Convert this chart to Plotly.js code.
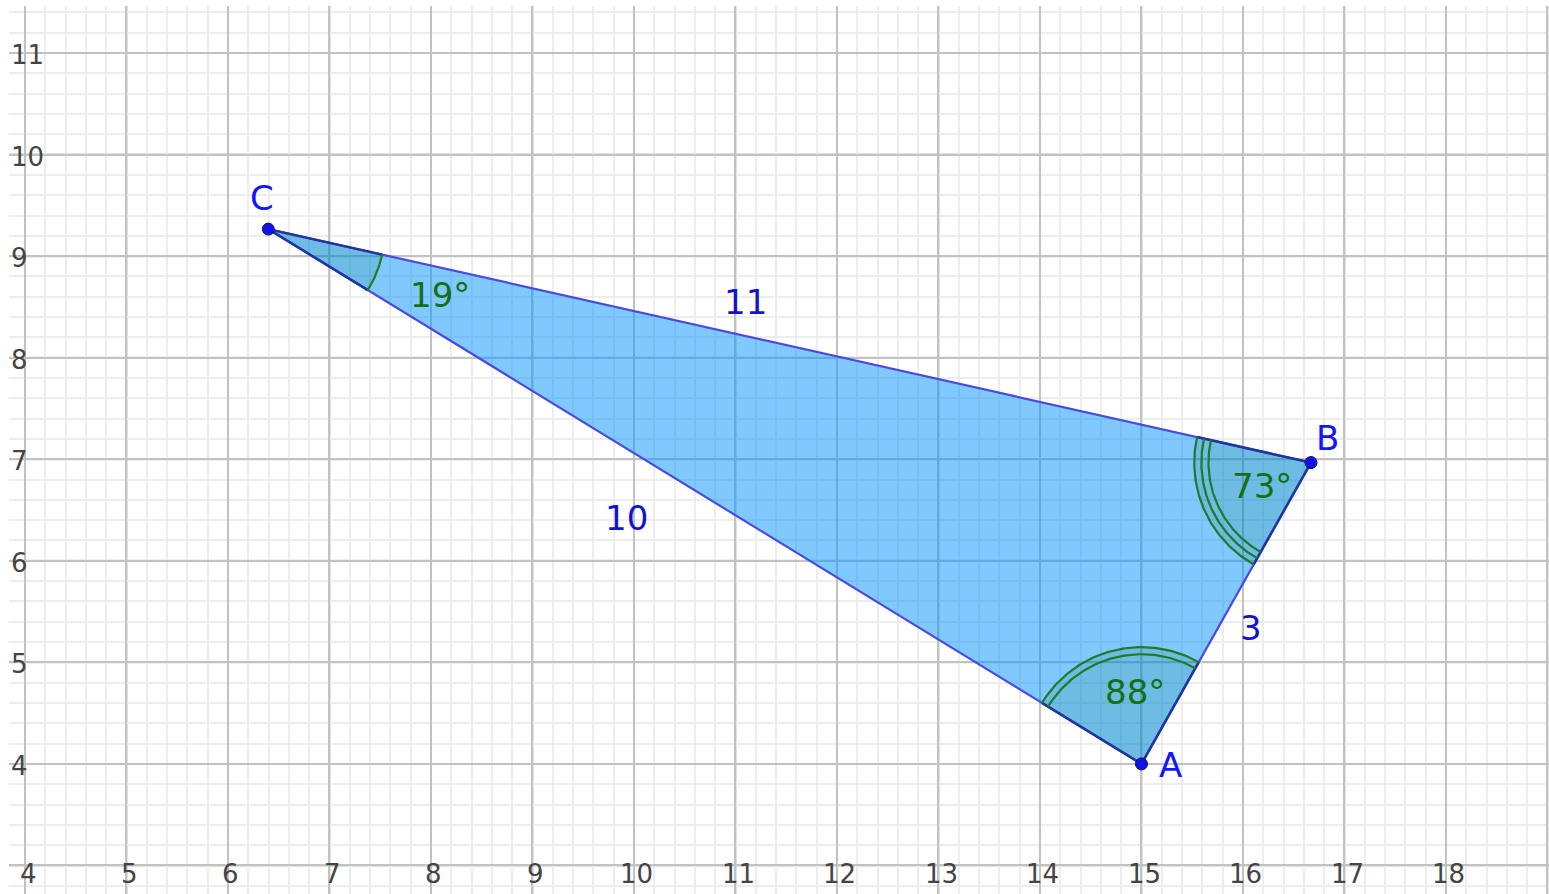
<!DOCTYPE html>
<html>
<head>
<meta charset="utf-8">
<script src="https://cdn.plot.ly/plotly-3.0.1.min.js"></script>
<style>html,body{margin:0;padding:0;background:#fff;}#chart{width:1549px;height:894px;}</style>
</head>
<body>
<div id="chart"></div>
<script>
// ---- data ----
const xTickVals = [4, 5, 6, 7, 8, 9, 10, 11, 12, 13, 14, 15, 16, 17, 18, 19];
const xTickText = ['4', '5', '6', '7', '8', '9', '10', '11', '12', '13', '14', '15', '16', '17', '18', ''];
const yTickVals = [3, 4, 5, 6, 7, 8, 9, 10, 11];
const yTickText = ['', '4', '5', '6', '7', '8', '9', '10', '11'];

const pointNames = ['A', 'B', 'C'];
const pointX = [15, 16.67, 6.397];
const pointY = [4, 6.967, 9.266];

const sideLabels = ['3', '11', '10'];      // sides AB, BC, CA
const angleLabels = ['88°', '73°', '19°']; // angles at A, B, C
const angleArcs = [2, 3, 1];               // number of arcs per angle

// ---- styles / label offsets (pixels) ----
const pointLabelShift = [[29, -1], [17, 25], [-6, 31]];
const sideLabelShift = [[25, -15], [-44, 44], [-78, -21]];
const angleLabelShift = [[-6, 72], [-49, -23], [172, -66]];
const sectorR = 1.15, arcGap = 0.07;

const xRange = [3.8424, 19.015];
const yRange = [2.719, 11.463];
const xAxisAt = 3;   // horizontal axis line value
const fnt = 'DejaVu Sans, sans-serif';
const majorGrid = '#c2c2c2', minorGrid = '#ededed';

// minor grid positions (every 0.2, skipping integers)
function minorVals(r) {
  const out = [];
  for (let k = Math.ceil(r[0] * 5); k <= Math.floor(r[1] * 5); k++) {
    if (k % 5 !== 0) out.push(Math.round(k * 2) / 10);
  }
  return out;
}

const traces = [];
// triangle
traces.push({
  type: 'scatter', mode: 'lines',
  x: [pointX[0], pointX[1], pointX[2], pointX[0]],
  y: [pointY[0], pointY[1], pointY[2], pointY[0]],
  fill: 'toself', fillcolor: 'rgba(0,148,255,0.5)',
  line: {color: '#4a4ae0', width: 2.2}, hoverinfo: 'skip'
});

// angle sectors
function arcPts(cx, cy, r, a1, d, n) {
  const xs = [], ys = [];
  for (let i = 0; i <= n; i++) {
    const a = a1 + d * i / n;
    xs.push(cx + r * Math.cos(a)); ys.push(cy + r * Math.sin(a));
  }
  return [xs, ys];
}
for (let i = 0; i < 3; i++) {
  const vx = pointX[i], vy = pointY[i];
  const p = (i + 1) % 3, q = (i + 2) % 3;
  const a1 = Math.atan2(pointY[p] - vy, pointX[p] - vx);
  const a2 = Math.atan2(pointY[q] - vy, pointX[q] - vx);
  let d = a2 - a1;
  while (d > Math.PI) d -= 2 * Math.PI;
  while (d <= -Math.PI) d += 2 * Math.PI;
  const [ax, ay] = arcPts(vx, vy, sectorR, a1, d, 80);
  traces.push({
    type: 'scatter', mode: 'lines',
    x: [vx].concat(ax, [vx]), y: [vy].concat(ay, [vy]),
    fill: 'toself', fillcolor: 'rgba(0,90,40,0.13)',
    line: {color: 'rgba(0,0,0,0)', width: 0}, hoverinfo: 'skip'
  });
  traces.push({
    type: 'scatter', mode: 'lines',
    x: [ax[0], vx, ax[ax.length - 1]], y: [ay[0], vy, ay[ay.length - 1]],
    line: {color: '#20359e', width: 2.5}, hoverinfo: 'skip'
  });
  for (let k = 0; k < angleArcs[i]; k++) {
    const [bx, by] = arcPts(vx, vy, sectorR - k * arcGap, a1, d, 80);
    traces.push({
      type: 'scatter', mode: 'lines', x: bx, y: by,
      line: {color: '#1f7a2a', width: 2.2}, hoverinfo: 'skip'
    });
  }
}

// points
traces.push({
  type: 'scatter', mode: 'markers', x: pointX, y: pointY,
  marker: {color: '#1010f0', size: 12, line: {color: '#101040', width: 1}},
  hoverinfo: 'skip'
});

const annotations = [];
for (let i = 0; i < 3; i++) {
  annotations.push({
    x: pointX[i], y: pointY[i], xref: 'x', yref: 'y', text: pointNames[i],
    showarrow: false, xshift: pointLabelShift[i][0], yshift: pointLabelShift[i][1],
    font: {family: fnt, size: 34, color: '#1414ff'}
  });
  const j = (i + 1) % 3;
  annotations.push({
    x: (pointX[i] + pointX[j]) / 2, y: (pointY[i] + pointY[j]) / 2, xref: 'x', yref: 'y',
    text: sideLabels[i], showarrow: false,
    xshift: sideLabelShift[i][0], yshift: sideLabelShift[i][1],
    font: {family: fnt, size: 34, color: '#1212d0'}
  });
  annotations.push({
    x: pointX[i], y: pointY[i], xref: 'x', yref: 'y', text: angleLabels[i],
    showarrow: false, xshift: angleLabelShift[i][0], yshift: angleLabelShift[i][1],
    font: {family: fnt, size: 34, color: '#137013'}
  });
}
// axis tick labels (drawn over the grid like the reference)
xTickVals.forEach((v, k) => {
  if (!xTickText[k]) return;
  annotations.push({
    x: v, y: xAxisAt, xref: 'x', yref: 'y', text: xTickText[k], showarrow: false,
    xanchor: 'center', yanchor: 'middle', xshift: 3, yshift: -9,
    font: {family: fnt, size: 26, color: '#444444'}
  });
});
yTickVals.forEach((v, k) => {
  if (!yTickText[k]) return;
  annotations.push({
    x: xRange[0], y: v, xref: 'x', yref: 'y', text: yTickText[k], showarrow: false,
    xanchor: 'left', yanchor: 'middle', xshift: 0, yshift: -2,
    font: {family: fnt, size: 26, color: '#444444'}
  });
});

// major grid lines as shapes (guarantees the line at the first tick is drawn)
const shapes = [];
xTickVals.forEach(v => shapes.push({
  type: 'line', layer: 'below', xref: 'x', yref: 'paper', x0: v, x1: v, y0: 0, y1: 1,
  line: {color: majorGrid, width: 2}
}));
yTickVals.forEach(v => shapes.push({
  type: 'line', layer: 'below', xref: 'paper', yref: 'y', x0: 0, x1: 1, y0: v, y1: v,
  line: {color: majorGrid, width: 2}
}));

const layout = {
  width: 1549, height: 894,
  margin: {l: 9, r: 0, t: 6, b: 0, pad: 0},
  paper_bgcolor: '#ffffff', plot_bgcolor: '#ffffff',
  showlegend: false,
  xaxis: {
    range: xRange, tickmode: 'array', tickvals: xTickVals, ticktext: xTickText,
    showticklabels: false,
    showgrid: true, gridcolor: majorGrid, gridwidth: 2, zeroline: false, showline: false,
    ticks: '',
    minor: {tickmode: 'array', tickvals: minorVals(xRange), showgrid: true, gridcolor: minorGrid, gridwidth: 2},
    fixedrange: true
  },
  yaxis: {
    range: yRange, tickmode: 'array', tickvals: yTickVals, ticktext: yTickText,
    showticklabels: false,
    showgrid: true, gridcolor: majorGrid, gridwidth: 2, zeroline: false, showline: false,
    ticks: '',
    minor: {tickmode: 'array', tickvals: minorVals(yRange), showgrid: true, gridcolor: minorGrid, gridwidth: 2},
    fixedrange: true
  },
  shapes: shapes,
  annotations: annotations
};

Plotly.newPlot('chart', traces, layout, {displayModeBar: false, staticPlot: true});
</script>
</body>
</html>
